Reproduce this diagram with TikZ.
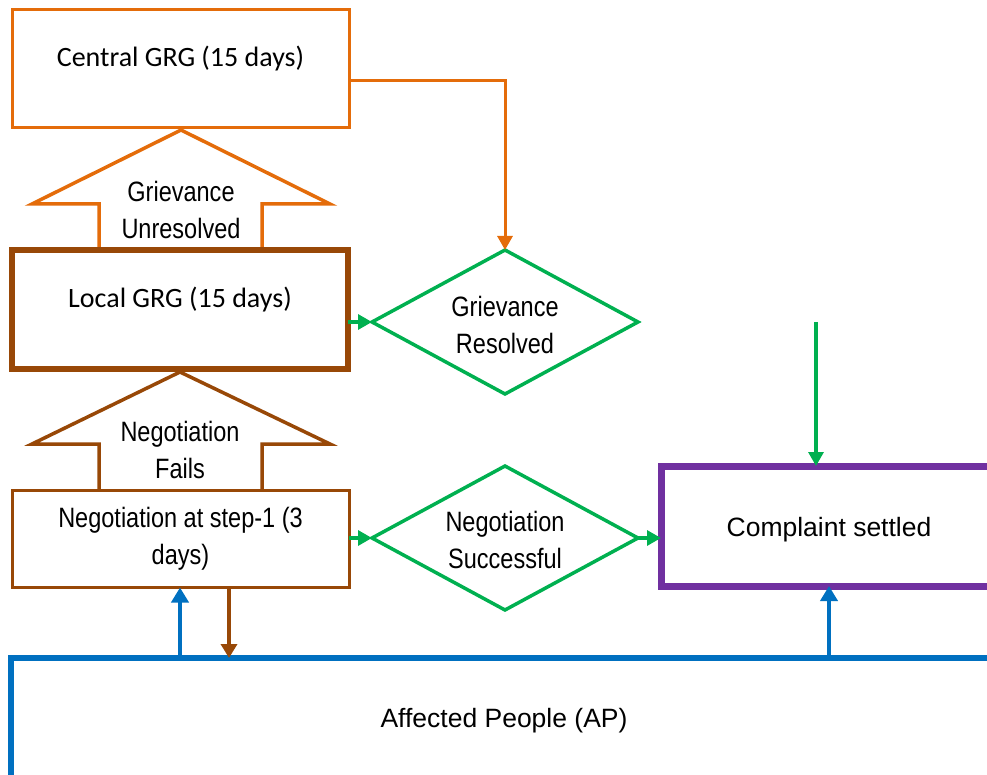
\documentclass[tikz,border=0pt]{standalone}
\usepackage{fontspec}
\setmainfont{Liberation Sans}
\newfontfamily\narrowf{Liberation Sans}[FakeStretch=0.84]
\newfontfamily\calif{Carlito}
\usetikzlibrary{arrows.meta,shapes.geometric}
\definecolor{cOrange}{HTML}{E46C0A}
\definecolor{cBrown}{HTML}{984807}
\definecolor{cGreen}{HTML}{00B050}
\definecolor{cPurple}{HTML}{7030A0}
\definecolor{cBlue}{HTML}{0070C0}
\tikzset{
  box/.style={draw, rectangle, inner sep=0pt, outer sep=0pt},
  dia/.style={draw=cGreen, diamond, line width=3.5pt, inner sep=0pt, outer sep=0pt, minimum width=266pt, minimum height=144pt},
  narrowtext/.style={font=\narrowf\fontsize{28}{37}\selectfont, align=center, inner sep=0pt},
  calitext/.style={font=\calif\fontsize{28}{34}\selectfont, inner sep=0pt},
  arialtext/.style={font=\fontsize{26.5}{32}\selectfont},
  tipx/.style={-{Triangle[length=14pt,width=15pt]}},
  oline/.style={draw=cOrange, line width=3pt, tipx},
  gline/.style={draw=cGreen, line width=3.2pt, tipx},
  bline/.style={draw=cBlue, line width=4.5pt, -{Triangle[length=15pt,width=17pt]}},
  brline/.style={draw=cBrown, line width=3.5pt, -{Triangle[length=14pt,width=16pt]}},
  blockarrow/.style={line width=3.5pt, fill=white, line join=miter}
}
\begin{document}
\begin{tikzpicture}[x=1pt,y=-1pt]
\useasboundingbox (0,0) rectangle (987,775);
\begin{scope}
\clip (0,0) rectangle (987,775);
% block arrows
\draw[blockarrow, draw=cOrange] (262,250) -- (262,204) -- (330,204) -- (181,130) -- (32,204) -- (99,204) -- (99,250);
\draw[blockarrow, draw=cBrown] (262,490) -- (262,444) -- (330,444) -- (180,372) -- (32,444) -- (99,444) -- (99,490);
\node[narrowtext] (unres) at (181,210) {Grievance\\Unresolved};
\node[narrowtext] (fails) at (180,450) {Negotiation\\Fails};
% boxes
\node[box, draw=cOrange, line width=3pt, minimum width=337pt, minimum height=118pt] (central) at (180.5,69) {};
\node[calitext] (centralT) at (180.5,59) {Central GRG (15 days)};
\node[box, draw=cBrown, line width=6pt, minimum width=336pt, minimum height=119pt] (local) at (180,309.5) {};
\node[calitext] (localT) at (180,300) {Local GRG (15 days)};
\node[box, draw=cBrown, line width=3pt, minimum width=337pt, minimum height=97pt, narrowtext] (neg) at (180.5,539) {Negotiation at step-1 (3\\days)};
\node[box, draw=cPurple, line width=7pt, minimum width=336pt, minimum height=120pt, arialtext, text height=20pt, text depth=0pt] (settled) at (829,526) {Complaint settled};
\node[box, draw=cBlue, line width=6pt, minimum width=986pt, minimum height=120pt, arialtext, text height=18pt, text depth=0pt] (ap) at (504,718) {Affected People (AP)};
% diamonds
\node[dia] (gres) at (505,322) {};
\node[narrowtext] (gresT) at (505,324.5) {Grievance\\Resolved};
\node[dia] (nres) at (505,538) {};
\node[narrowtext] (nresT) at (505,540) {Negotiation\\Successful};
% connectors
\draw[oline] ([yshift=-12pt]central.east) -| (gres.north);
\draw[gline] (local.east |- gres.west) -- (gres.west);
\draw[gline] (neg.east |- nres.west) -- (nres.west);
\draw[gline] (nres.east) -- (nres.east -| settled.west);
\coordinate (gtop) at (816,322);
\draw[gline] (gtop) -- (gtop |- settled.north);
\draw[bline] ([xshift=-0.5pt]neg.south |- ap.north) -- ([xshift=-0.5pt]neg.south);
\draw[brline] ([xshift=48.5pt]neg.south) -- ([xshift=48.5pt]neg.south |- ap.north);
\draw[bline] (settled.south |- ap.north) -- (settled.south);
\end{scope}
\end{tikzpicture}
\end{document}
